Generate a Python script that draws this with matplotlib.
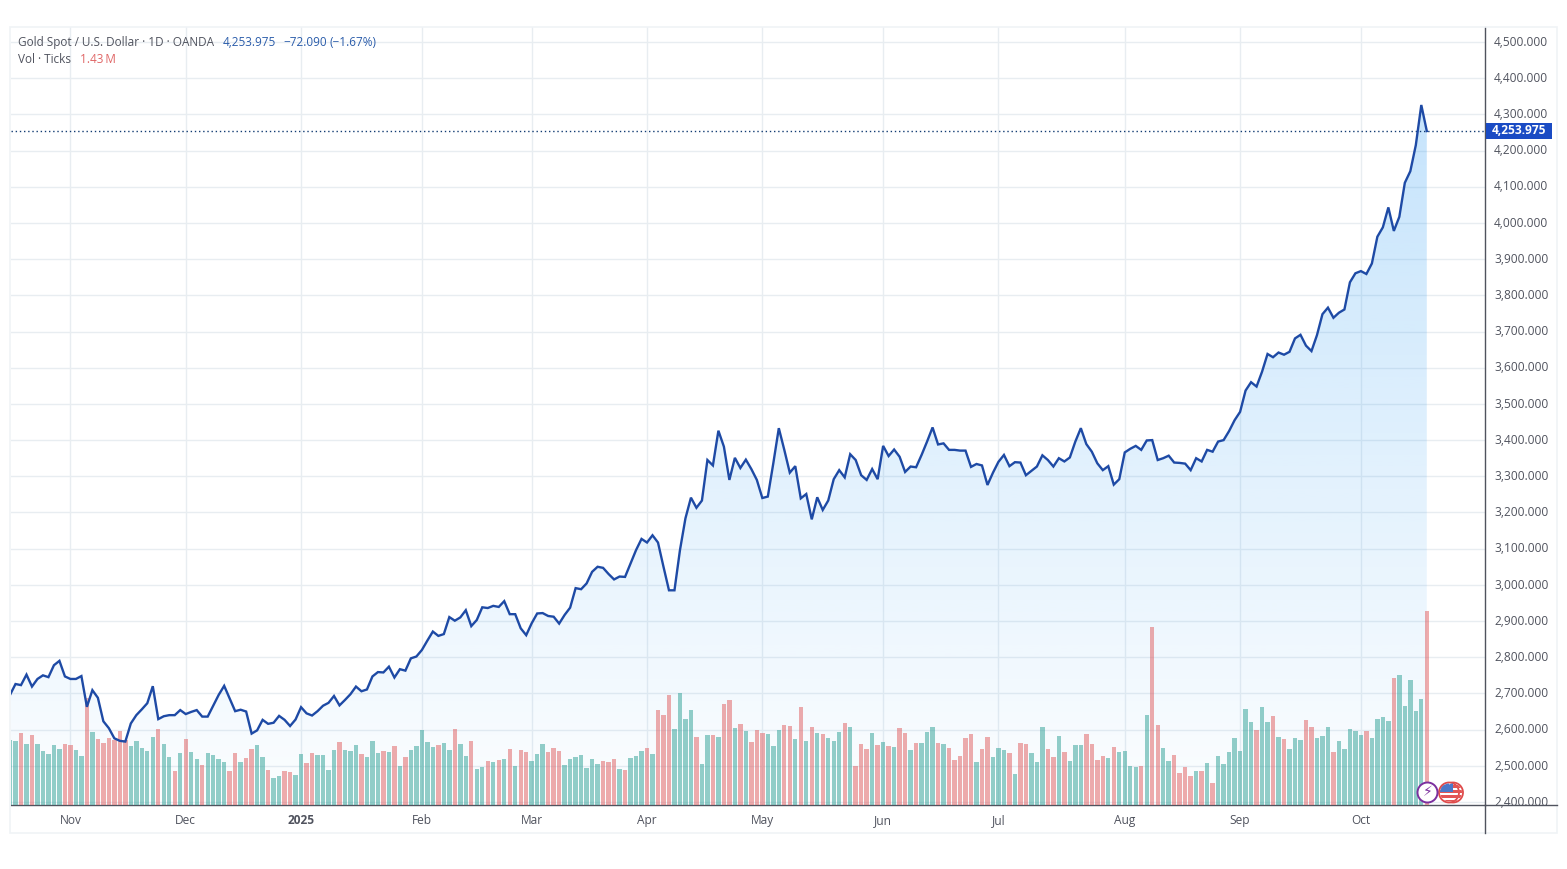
import numpy as np
import matplotlib
matplotlib.use("Agg")
import matplotlib.pyplot as plt
from matplotlib.patches import Circle, Rectangle
from matplotlib.transforms import ScaledTranslation

plt.rcParams['font.family'] = ['Open Sans', 'DejaVu Sans']

close_prices = [
2696,2726,2723,2752,2719,2740,2750,2745,2778,2790,2747,2740,2740,2748,2663,2709,2688,2623,2604,2576,
2569,2567,2617,2640,2656,2673,2720,2629,2637,2640,2640,2654,2643,2649,2654,2636,2636,2666,2696,2721,
2686,2651,2655,2650,2589,2598,2627,2616,2619,2638,2627,2610,2628,2662,2645,2639,2651,2666,2674,2693,
2667,2682,2698,2719,2706,2711,2747,2759,2758,2774,2744,2767,2763,2797,2802,2820,2846,2871,2859,2864,
2911,2901,2910,2930,2886,2903,2938,2936,2942,2939,2955,2919,2919,2880,2861,2894,2921,2922,2914,2912,
2893,2917,2937,2991,2988,3004,3036,3050,3047,3030,3015,3023,3022,3059,3096,3127,3117,3137,3117,3050,
2985,2985,3096,3184,3241,3213,3233,3345,3330,3426,3382,3290,3351,3323,3346,3320,3290,3240,3244,3336,
3433,3373,3310,3328,3239,3251,3181,3242,3207,3233,3292,3317,3297,3361,3345,3303,3290,3320,3292,3384,
3356,3374,3354,3312,3327,3325,3359,3396,3435,3388,3391,3373,3373,3371,3371,3326,3334,3330,3276,3310,
3340,3359,3328,3339,3338,3303,3315,3327,3358,3345,3327,3350,3341,3352,3396,3433,3389,3368,3336,3317,
3328,3277,3292,3366,3376,3384,3373,3399,3400,3345,3350,3357,3338,3337,3335,3317,3350,3341,3373,3368,
3396,3400,3425,3455,3478,3537,3560,3548,3589,3638,3629,3642,3636,3644,3681,3691,3661,3646,3690,3748,
3766,3738,3752,3761,3836,3861,3867,3859,3888,3962,3988,4043,3978,4017,4111,4143,4215,4326,4253.975]

volume_k = [
482,474,533,452,518,452,400,378,445,415,452,445,408,364,789,541,489,459,496,482,
548,482,437,474,423,400,504,563,452,356,253,386,489,393,342,297,386,371,342,319,
253,386,319,349,415,445,356,260,201,216,253,246,224,378,312,386,371,371,260,408,
467,408,400,445,378,356,474,386,400,393,437,290,356,408,437,555,467,430,445,459,
408,563,452,364,474,268,283,327,319,334,342,415,290,408,393,327,378,452,393,423,
400,297,342,356,371,275,342,305,327,319,342,268,260,349,364,400,423,378,703,666,
813,563,828,636,703,504,305,518,518,504,747,776,570,600,548,467,555,533,526,437,
555,592,585,489,725,474,577,533,526,496,474,541,607,577,290,452,415,533,445,467,
437,430,570,533,408,459,459,541,577,459,452,423,334,364,496,526,319,415,504,356,
423,408,386,231,459,452,386,319,577,415,356,511,393,327,445,445,526,452,334,364,
349,430,393,400,290,283,290,666,1314,592,423,327,371,238,283,216,253,253,312,165,
364,305,393,496,400,710,614,555,725,614,658,504,489,415,496,482,629,577,496,511,
577,393,474,415,563,548,518,548,496,636,651,622,939,961,732,924,695,784,1430]

down_days = [2,4,10,11,14,16,17,18,19,20,21,27,30,32,35,40,41,43,44,47,50,51,54,55,60,64,68,70,72,78,81,84,
87,89,91,93,94,98,99,100,108,109,110,112,116,118,119,120,125,128,130,131,133,135,136,137,141,142,144,146,
148,152,154,155,156,158,160,162,163,165,169,171,172,173,174,175,177,178,182,184,185,189,190,192,196,197,
198,199,201,206,208,209,212,213,214,215,217,219,227,230,232,236,237,241,247,252,258]

month_positions = [11,32,53,75,95,116,137,159,180,203,224,246]
month_labels = ['Nov','Dec','2025','Feb','Mar','Apr','May','Jun','Jul','Aug','Sep','Oct']
price_ticks = list(range(2400, 4501, 100))
last_price = 4253.975

W, H = 1567, 869
fig = plt.figure(figsize=(W/100, H/100), dpi=100, facecolor='white')

def axrect(l, t, r, b):
    return [l/W, 1-b/H, (r-l)/W, (b-t)/H]

TEXT = '#50535e'
GRID = '#e8edf1'
ax = fig.add_axes(axrect(11, 27, 1485, 805.3))
ax.set_zorder(1)
x = np.arange(len(close_prices))

# area gradient
n = 256
rgba = np.zeros((n, 1, 4))
rgba[..., 0] = 33/255; rgba[..., 1] = 150/255; rgba[..., 2] = 243/255
rgba[..., 3] = np.linspace(0.26, 0.015, n)[:, None]
poly = ax.fill_between(x, close_prices, 2390.9, color='none', lw=0)
im = ax.imshow(rgba, extent=[0, len(x)-1, 2390.9, max(close_prices)], origin='upper',
               aspect='auto', zorder=1, interpolation='bilinear')
im.set_clip_path(poly.get_paths()[0], transform=ax.transData)

# volume
ax_vol = ax.twinx()
ax_vol.set_zorder(2)
ax_vol.patch.set_visible(False)
ax_vol.set_ylim(0, 5733)
ax_vol.set_yticks([])
for s in ax_vol.spines.values():
    s.set_visible(False)
down = set(down_days)
bar_colors = ['#e05a5c' if i in down else '#2a9f94' for i in range(len(volume_k))]
ax_vol.bar(x, volume_k, width=0.8, color=bar_colors, alpha=0.5, lw=0)

ax.set_xlim(0.18, 268.6)
ax.set_ylim(2390.9, 4541.5)
ax.yaxis.tick_right()
ax.set_yticks(price_ticks)
ax.set_yticklabels([f'{p:,.3f}' for p in price_ticks])
ax.set_xticks(month_positions)
ax.set_xticklabels(month_labels)
ax.tick_params(axis='both', length=0, labelsize=8.6, labelcolor=TEXT)
ax.tick_params(axis='y', pad=6.5, labelright=True, labelleft=False)
ax.tick_params(axis='x', pad=6)
up_shift = ScaledTranslation(0, 1.3/100, fig.dpi_scale_trans)
for lab in ax.get_yticklabels():
    lab.set_transform(lab.get_transform() + up_shift)
for lab in ax.get_xticklabels():
    if lab.get_text() == '2025':
        lab.set_fontweight('bold')
ax.grid(True, color=GRID, lw=1.0)
ax.set_axisbelow(True)
for s in ['top', 'left']:
    ax.spines[s].set_visible(False)
for s in ['right', 'bottom']:
    ax.spines[s].set_color('#50535e')
    ax.spines[s].set_linewidth(1)

# price line over the bars
ax_vol.plot(x, close_prices, color='#1e4aa5', lw=1.7, transform=ax.transData,
            solid_joinstyle='miter', zorder=5)
ax.axhline(last_price, color='#123c73', lw=1, ls=(0, (1, 2)), zorder=3)

# overlay in pixels: frame, last price tag, event badges, status lines
ov = fig.add_axes([0, 0, 1, 1], zorder=5)
ov.set_xlim(0, W); ov.set_ylim(H, 0); ov.axis('off'); ov.patch.set_visible(False)
ov.add_patch(Rectangle((10, 27), 1547, 806, fill=False, ec='#f0f3f6', lw=1.2))
ov.plot([1485, 1557], [805.3, 805.3], color='#50535e', lw=1)
ov.plot([1485, 1485], [805.3, 833], color='#50535e', lw=1)
ov.add_patch(Rectangle((1486, 123), 66, 16, fc='#1a4bc4', ec='none'))
ov.text(1519, 130.5, '4,253.975', color='white', fontsize=8.6, fontweight='bold', ha='center', va='center')

for cx in (1453, 1449):
    ov.add_patch(Circle((cx, 792.5), 10, fc='white', ec='#df4b4b', lw=1.3, zorder=6))
    clip = Circle((cx, 792.5), 9, transform=ov.transData)
    for yy in (785, 790, 795, 800):
        r = Rectangle((cx-10, yy), 20, 2.6, fc='#e25555', ec='none', zorder=7)
        ov.add_patch(r); r.set_clip_path(clip)
    r = Rectangle((cx-10, 782), 10, 10, fc='#4a78c8', ec='none', zorder=8)
    ov.add_patch(r); r.set_clip_path(clip)
ov.add_patch(Circle((1427.5, 792.5), 10, fc='white', ec='#7b2f9e', lw=1.4, zorder=9))
ov.text(1427.5, 792.5, '\u26a1', color='#7b2f9e', fontsize=10, ha='center', va='center',
        family='DejaVu Sans', zorder=10)

FS = 8.5
BLUE = '#2a5caa'
ov.text(18, 42.5, 'Gold Spot / U.S. Dollar \u00b7 1D \u00b7 OANDA', color=TEXT, fontsize=FS, va='center')
ov.text(223, 42.5, '4,253.975', color=BLUE, fontsize=FS, va='center')
ov.text(283, 42.5, '\u221272.090', color=BLUE, fontsize=FS, va='center')
ov.text(329, 42.5, '(\u22121.67%)', color=BLUE, fontsize=FS, va='center')
ov.text(18, 59.5, 'Vol \u00b7 Ticks', color=TEXT, fontsize=FS, va='center')
ov.text(80, 59.5, '1.43\u2009M', color='#e06666', fontsize=FS, va='center')

fig.savefig('out.png', dpi=100, facecolor='white')
